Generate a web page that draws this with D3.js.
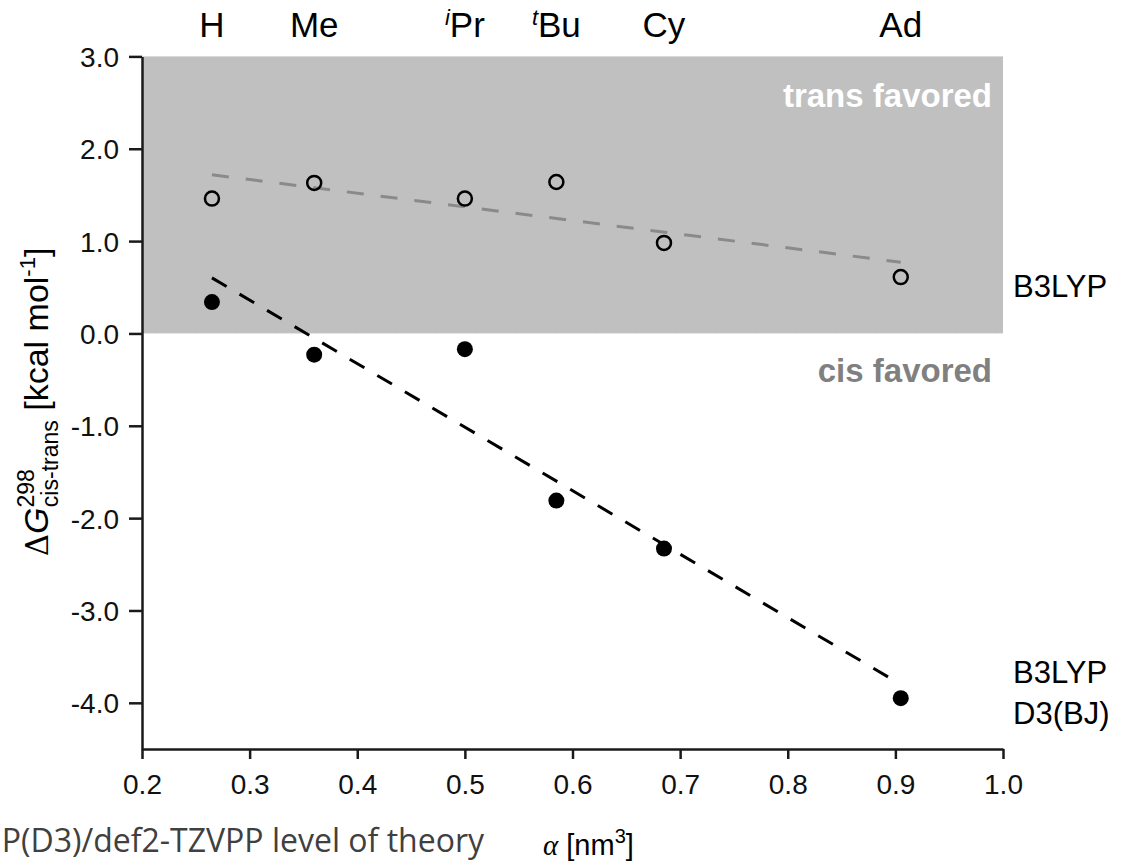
<!DOCTYPE html>
<html>
<head>
<meta charset="utf-8">
<script src="https://cdn.jsdelivr.net/npm/d3@7"></script>
<style>
  html, body { margin: 0; padding: 0; background: #fff; }
  svg { display: block; font-family: "Liberation Sans", Arial, sans-serif; }
</style>
</head>
<body>
<svg id="chart" width="1128" height="863"></svg>
<script>
// Substituents and their polarizability volumes alpha [nm^3]
const substituents = ["H", "Me", "iPr", "tBu", "Cy", "Ad"];
const alpha = [0.265, 0.36, 0.50, 0.585, 0.685, 0.905];
// Free energy difference dG(cis-trans) at 298 K [kcal/mol]
const dG_B3LYP = [1.46, 1.63, 1.46, 1.64, 0.98, 0.61];
const dG_B3LYP_D3 = [0.34, -0.23, -0.17, -1.81, -2.33, -3.95];
const xTicks = [0.2, 0.3, 0.4, 0.5, 0.6, 0.7, 0.8, 0.9, 1.0];
const yTicks = [3, 2, 1, 0, -1, -2, -3, -4];

const svg = d3.select("#chart");
const x0 = 142, x1 = 1003, yTop = 56.4, yBot = 749;
const x = d3.scaleLinear().domain([0.2, 1.0]).range([x0, x1]);
const y = d3.scaleLinear().domain([-4.5, 3.0]).range([yBot, yTop]);

// shaded "trans favored" region (dG > 0)
svg.append("rect")
  .attr("x", x(0.2)).attr("y", y(3.0))
  .attr("width", x(1.0) - x(0.2)).attr("height", y(0) - y(3.0))
  .attr("fill", "#c0c0c0");
svg.append("line")
  .attr("x1", x(0.2)).attr("x2", x(1.0)).attr("y1", y(0)).attr("y2", y(0))
  .attr("stroke", "#e6e6e6").attr("stroke-width", 1).attr("stroke-dasharray", "3,2");

svg.append("text").attr("x", 992).attr("y", 107).attr("text-anchor", "end")
  .attr("font-size", 33).attr("font-weight", "bold").attr("fill", "#ffffff")
  .text("trans favored");
svg.append("text").attr("x", 992).attr("y", 382).attr("text-anchor", "end")
  .attr("font-size", 33).attr("font-weight", "bold").attr("fill", "#808080")
  .text("cis favored");

// least-squares fit of a series
function fit(xs, ys) {
  const mx = d3.mean(xs), my = d3.mean(ys);
  let sxy = 0, sxx = 0;
  xs.forEach((v, i) => { sxy += (v - mx) * (ys[i] - my); sxx += (v - mx) ** 2; });
  const m = sxy / sxx, b = my - m * mx;
  const ext = d3.extent(xs);
  return ext.map(v => [v, m * v + b]);
}
const line = d3.line().x(d => x(d[0])).y(d => y(d[1]));

svg.append("path").datum(fit(alpha, dG_B3LYP))
  .attr("d", line).attr("fill", "none")
  .attr("stroke", "#8a8a8a").attr("stroke-width", 3).attr("stroke-dasharray", "17,17");
svg.append("path").datum(fit(alpha, dG_B3LYP_D3))
  .attr("d", line).attr("fill", "none")
  .attr("stroke", "#000").attr("stroke-width", 3).attr("stroke-dasharray", "17,15");

// data points
svg.append("g").selectAll("circle").data(alpha).join("circle")
  .attr("cx", d => x(d)).attr("cy", (d, i) => y(dG_B3LYP[i]))
  .attr("r", 7).attr("fill", "none").attr("stroke", "#000").attr("stroke-width", 2.5);
svg.append("g").selectAll("circle").data(alpha).join("circle")
  .attr("cx", d => x(d)).attr("cy", (d, i) => y(dG_B3LYP_D3[i]))
  .attr("r", 8).attr("fill", "#000");

// axes
const yAxis = d3.axisLeft(y).tickValues(yTicks).tickFormat(d => d.toFixed(1))
  .tickSize(13).tickSizeOuter(0).tickPadding(10);
const gy = svg.append("g").attr("transform", `translate(${x0},0)`).call(yAxis);
const xAxis = d3.axisBottom(x).tickValues(xTicks).tickFormat(d => d.toFixed(1))
  .tickSize(10).tickSizeOuter(0).tickPadding(15);
const gx = svg.append("g").attr("transform", `translate(0,${yBot})`).call(xAxis);
[gx, gy].forEach(g => {
  g.selectAll("path.domain").attr("stroke", "#1a1a1a").attr("stroke-width", 2.5);
  g.selectAll(".tick line").attr("stroke", "#1a1a1a").attr("stroke-width", 2.5);
  g.selectAll(".tick text").attr("font-size", 28).attr("fill", "#111")
    .attr("font-family", "'Liberation Sans', Arial, sans-serif");
});
gy.selectAll(".tick text").attr("dy", "0.36em");
gx.selectAll(".tick text").attr("dy", "0.71em");

// substituent labels above the plot
const subLabels = svg.append("g").attr("font-size", 35).attr("fill", "#000");
substituents.forEach((s, i) => {
  const t = subLabels.append("text").attr("x", x(alpha[i])).attr("y", 37).attr("text-anchor", "middle");
  if (s === "iPr" || s === "tBu") {
    t.append("tspan").attr("font-size", 22).attr("font-style", "italic").attr("dy", -12).text(s[0]);
    t.append("tspan").attr("dy", 12).text(s.slice(1));
  } else {
    t.text(s);
  }
});

// method labels
svg.append("text").attr("x", 1013).attr("y", 297).attr("font-size", 31).text("B3LYP");
svg.append("text").attr("x", 1013).attr("y", 683).attr("font-size", 31).text("B3LYP");
svg.append("text").attr("x", 1013).attr("y", 724).attr("font-size", 31).text("D3(BJ)");

// y axis title
const yl = svg.append("text")
  .attr("transform", "translate(48,402) rotate(-90)")
  .attr("text-anchor", "middle").attr("font-size", 34);
yl.append("tspan").attr("font-family", "'DejaVu Serif', serif").attr("font-size", 31).text("Δ");
yl.append("tspan").attr("font-style", "italic").text("G");
yl.append("tspan").attr("font-size", 23).attr("dy", -14).text("298");
yl.append("tspan").attr("font-size", 23).attr("dx", -38).attr("dy", 24).text("cis-trans");
yl.append("tspan").attr("dy", -10).text(" [kcal mol");
yl.append("tspan").attr("font-size", 22).attr("dy", -13).text("-1");
yl.append("tspan").attr("dy", 13).text("]");

// x axis title
const xl = svg.append("text").attr("x", 543).attr("y", 855).attr("font-size", 29);
xl.append("tspan").attr("font-family", "'Liberation Serif', serif").attr("font-style", "italic").text("α");
xl.append("tspan").text(" [nm");
xl.append("tspan").attr("font-size", 20).attr("dy", -12).text("3");
xl.append("tspan").attr("dy", 12).text("]");

// level of theory note
svg.append("text").attr("x", 484).attr("y", 852).attr("text-anchor", "end")
  .attr("font-family", "'Open Sans', sans-serif").attr("font-size", 32).attr("fill", "#404040")
  .text("P(D3)/def2-TZVPP level of theory");
</script>
</body>
</html>
